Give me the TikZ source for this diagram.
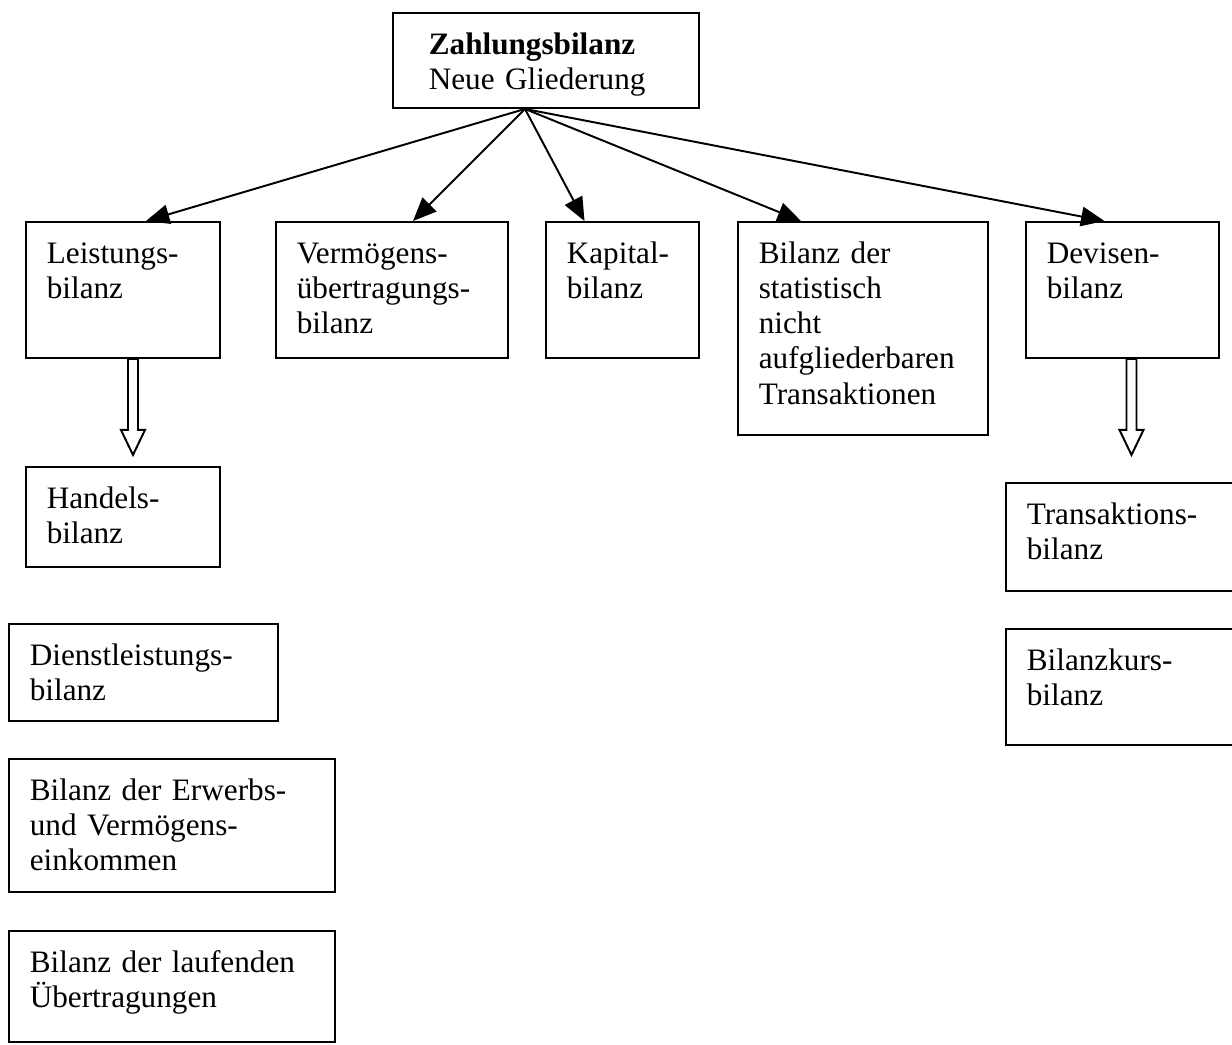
\documentclass[tikz,border=0pt]{standalone}
\usepackage{fontspec}
\setmainfont{Liberation Serif}
\usepackage{tikz}
\usetikzlibrary{arrows.meta}
\newdimen\pxu
\pxu=0.3846pt

\begin{document}
\begin{tikzpicture}[
		x=\pxu, y=-\pxu,
		box/.style={
			draw,
			line width=0.75pt,
			anchor=north west,
			inner sep=0pt
		},
		boxtext/.style={
			anchor=north west,
			text width=130pt,
			align=left,
			inner xsep=8.2pt,
			inner ysep=7.2pt,
			text height=9pt,
			font=\fontsize{12}{13.5}\selectfont
		},
		arrow/.style={-{Triangle[length=9pt, width=7.5pt]}, line width=0.75pt},
		hollow/.style={draw, line width=0.75pt, fill=white}
		]
		
		\useasboundingbox (0,0) rectangle (1232,1044);
		
		% oberste Ebene
		\node[box, minimum width=306*\pxu, minimum height=95*\pxu,
			label={[boxtext, name=zb-text, xshift=15*\pxu]north west:{\textbf{Zahlungsbilanz}\\Neue Gliederung}}] (zb) at (392,12) {};
		\coordinate (hub) at ([xshift=-21*\pxu]zb.south);
		
		% Teilbilanzen
		\node[box, minimum width=194*\pxu, minimum height=136*\pxu,
			label={[boxtext, name=leist-text]north west:{Leistungs-\\bilanz}}] (leist) at (25,221) {};
		\node[box, minimum width=232*\pxu, minimum height=136*\pxu,
			label={[boxtext, name=verm-text]north west:{Vermögens-\\übertragungs-\\bilanz}}] (verm) at (275,221) {};
		\node[box, minimum width=153*\pxu, minimum height=136*\pxu,
			label={[boxtext, name=kap-text]north west:{Kapital-\\bilanz}}] (kap) at (545,221) {};
		\node[box, minimum width=250*\pxu, minimum height=213*\pxu,
			label={[boxtext, name=stat-text]north west:{Bilanz der\\statistisch\\nicht\\aufgliederbaren\\Transaktionen}}] (stat) at (737,221) {};
		\node[box, minimum width=193*\pxu, minimum height=136*\pxu,
			label={[boxtext, name=dev-text]north west:{Devisen-\\bilanz}}] (dev) at (1025,221) {};
		
		\draw[arrow] (hub) -- ([xshift=23*\pxu]leist.north);
		\draw[arrow] (hub) -- ([xshift=21*\pxu]verm.north);
		\draw[arrow] (hub) -- ([xshift=-38*\pxu]kap.north);
		\draw[arrow] (hub) -- ([xshift=-62*\pxu]stat.north);
		\draw[arrow] (hub) -- ([xshift=-18*\pxu]dev.north);
		
		% Leistungsbilanz
		\draw[hollow] (leist.south) ++(5,0) -- ++(0,71) -- ++(-7,0) -- ++(12,25) -- ++(12,-25) -- ++(-7,0) -- ++(0,-71) -- cycle;
		\node[box, minimum width=194*\pxu, minimum height=100*\pxu,
			label={[boxtext, name=handel-text]north west:{Handels-\\bilanz}}] (handel) at (25,466) {};
		\node[box, minimum width=269*\pxu, minimum height=97*\pxu,
			label={[boxtext, name=dienst-text]north west:{Dienstleistungs-\\bilanz}}] (dienst) at (8,623) {};
		\node[box, minimum width=326*\pxu, minimum height=133*\pxu,
			label={[boxtext, name=erwerb-text]north west:{Bilanz der Erwerbs-\\und Vermögens-\\einkommen}}] (erwerb) at (8,758) {};
		\node[box, minimum width=326*\pxu, minimum height=111*\pxu,
			label={[boxtext, name=lauf-text]north west:{Bilanz der laufenden\\Übertragungen}}] (lauf) at (8,930) {};
		
		% Devisenbilanz
		\draw[hollow] (dev.south) ++(4,0) -- ++(0,71) -- ++(-7,0) -- ++(12,25) -- ++(12,-25) -- ++(-7,0) -- ++(0,-71) -- cycle;
		\node[box, minimum width=240*\pxu, minimum height=108*\pxu,
			label={[boxtext, name=trans-text]north west:{Transaktions-\\bilanz}}] (trans) at (1005,482) {};
		\node[box, minimum width=240*\pxu, minimum height=116*\pxu,
			label={[boxtext, name=kurs-text]north west:{Bilanzkurs-\\bilanz}}] (kurs) at (1005,628) {};
		
	\end{tikzpicture}
\end{document}
